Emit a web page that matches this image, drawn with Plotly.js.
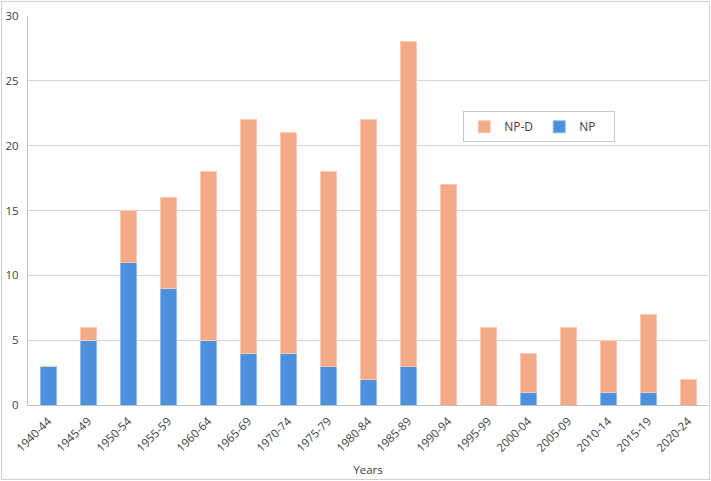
<!DOCTYPE html>
<html>
<head>
<meta charset="utf-8">
<script src="https://cdn.plot.ly/plotly-3.0.1.min.js"></script>
<style>
html,body{margin:0;padding:0;background:#fff;}
#wrap{position:relative;width:711px;height:481px;}
#chart{width:711px;height:481px;}
#frame{position:absolute;left:1px;top:1px;width:707px;height:477px;border:1px solid #d0d0d0;pointer-events:none;}
</style>
</head>
<body>
<div id="wrap"><div id="chart"></div><div id="frame"></div></div>
<script>
const categories = ["1940-44","1945-49","1950-54","1955-59","1960-64","1965-69","1970-74","1975-79","1980-84","1985-89","1990-94","1995-99","2000-04","2005-09","2010-14","2015-19","2020-24"];
const npValues  = [3,5,11,9,5,4,4,3,2,3,0,0,1,0,1,1,0];
const npdValues = [0,1,4,7,13,18,17,15,20,25,17,6,3,6,4,6,2];
const yTicks = [0,5,10,15,20,25,30];

const font = {family: "Open Sans, DejaVu Sans, sans-serif", size: 11, color: "#404040"};

const traces = [
  {type: "bar", name: "NP", x: categories, y: npValues,
   marker: {color: "#4A90DC", line: {color: "#8DB9EA", width: 1}}},
  {type: "bar", name: "NP-D", x: categories, y: npdValues,
   marker: {color: "#F2AA87", line: {color: "#F7CBB5", width: 1}}}
];

const layout = {
  width: 711, height: 481,
  margin: {l: 28, r: 3, t: 16, b: 76},
  barmode: "stack",
  bargap: 0.6,
  paper_bgcolor: "#fff", plot_bgcolor: "#fff",
  font: font,
  showlegend: true,
  legend: {
    orientation: "h", traceorder: "reversed",
    x: 0.64, y: 0.755, xanchor: "left", yanchor: "top",
    bordercolor: "#c8c8c8", borderwidth: 1, bgcolor: "#fff",
    font: {family: font.family, size: 12, color: "#404040"},
    itemwidth: 30, entrywidth: 30
  },
  xaxis: {
    type: "category", tickangle: -45, tickfont: {size: 11.5, color: "#404040"},
    showline: true, linecolor: "#c0c0c0", linewidth: 1, ticks: "",
    ticklabelstandoff: 4,
    title: {text: "Years", font: {size: 11.5, color: "#404040"}, standoff: 12}
  },
  yaxis: {
    range: [0, 30], tickvals: yTicks, ticktext: yTicks.map(String),
    showgrid: true, gridcolor: "#d4d4d4", gridwidth: 1,
    showline: true, linecolor: "#c0c0c0", linewidth: 1,
    zeroline: false, ticks: "", ticklabelstandoff: 6,
    tickfont: {size: 11.5, color: "#404040"}
  }
};

Plotly.newPlot("chart", traces, layout, {displayModeBar: false, staticPlot: true});
</script>
</body>
</html>
